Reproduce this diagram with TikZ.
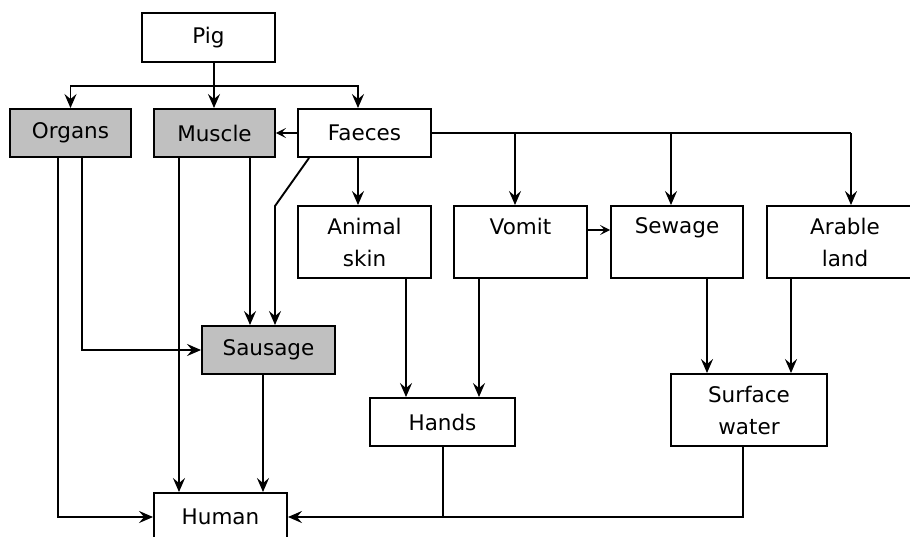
\documentclass[tikz,border=0pt]{standalone}
\usepackage{fontspec}
\setmainfont{DejaVu Sans}
\usetikzlibrary{arrows.meta}
\definecolor{boxgray}{HTML}{C0C0C0}
\tikzset{
  box/.style={draw, line width=1.9pt, minimum height=48pt, align=center, inner sep=0pt,
    font=\fontsize{21.5}{32}\selectfont},
  gbox/.style={box, fill=boxgray},
  ln/.style={line width=1.9pt},
  arr/.style={line width=1.9pt, -{Stealth[length=14pt,width=12pt,inset=5pt]}},
  sarr/.style={line width=1.9pt, -{Stealth[length=10pt,width=10pt,inset=4.5pt]}}
}
\begin{document}
\begin{tikzpicture}[x=1pt,y=-1pt]
\clip (0,0) rectangle (910,536);
\fill[white] (0,0) rectangle (910,536);
% nodes
\node[box, minimum width=133pt, minimum height=49pt] (Pig) at (208.5,37.5) {Pig};
\node[gbox, minimum width=121pt] (Organs) at (70.5,133) {Organs};
\node[gbox, minimum width=121pt] (Muscle) at (214.5,133) {Muscle};
\node[box, minimum width=133pt] (Faeces) at (364.5,133) {Faeces};
\node[box, minimum width=133pt, minimum height=72pt] (Skin) at (364.5,242) {Animal\\skin};
\node[box, minimum width=133pt, minimum height=72pt] (Vomit) at (520.5,242) {Vomit\\\mbox{}};
\node[box, minimum width=132pt, minimum height=72pt] (Sewage) at (677,242) {Sewage\\\mbox{}};
\node[box, minimum width=156pt, minimum height=72pt] (Arable) at (845,242) {Arable\\land};
\node[gbox, minimum width=133pt] (Sausage) at (268.5,350) {Sausage};
\node[box, minimum width=145pt] (Hands) at (442.5,422) {Hands};
\node[box, minimum width=156pt, minimum height=72pt] (Surface) at (749,410) {Surface\\water};
\node[box, minimum width=133pt] (Human) at (220.5,517) {Human};
% coordinates
\coordinate (split) at (214,86);
\coordinate (bv) at (515,133);
\coordinate (bs) at (671,133);
\coordinate (ba) at (851,133);
\coordinate (fk) at (275,206);
\coordinate (m1) at (179,0);
\coordinate (m2) at (250,0);
\coordinate (o1) at (58,0);
\coordinate (o2) at (82,0);
\coordinate (s1) at (263,0);
\coordinate (a1) at (406,0);
\coordinate (a2) at (479,0);
\coordinate (w1) at (707,0);
\coordinate (w2) at (791,0);
\coordinate (h1) at (443,0);
\coordinate (w3) at (743,0);
% connectors
\draw[ln] (Pig.south -| split) -- (split);
\draw[arr] (split) -| (Organs.north);
\draw[arr] (split) -- (Muscle.north -| split);
\draw[arr] (split) -| ([xshift=-6.5pt]Faeces.north);
\draw[sarr] (Faeces.west) -- (Muscle.east);
\draw[ln] (Faeces.east) -- (ba);
\draw[arr] (bv) -- (bv |- Vomit.north);
\draw[arr] (bs) -- (bs |- Sewage.north);
\draw[arr] (ba) -- (ba |- Arable.north);
\draw[arr] ([xshift=-6.5pt]Faeces.south) -- ([xshift=-6.5pt]Skin.north);
\draw[arr] ([xshift=12pt]Faeces.south west) -- (fk) -- (fk |- Sausage.north);
\draw[arr] (m2 |- Muscle.south) -- (m2 |- Sausage.north);
\draw[arr] (m1 |- Muscle.south) -- (m1 |- Human.north);
\draw[arr] (o2 |- Organs.south) |- (Sausage.west);
\draw[arr] (o1 |- Organs.south) |- (Human.west);
\draw[arr] (s1 |- Sausage.south) -- (s1 |- Human.north);
\draw[sarr] ([yshift=12pt]Vomit.east) -- ([yshift=12pt]Sewage.west);
\draw[arr] (a1 |- Skin.south) -- (a1 |- Hands.north);
\draw[arr] (a2 |- Vomit.south) -- (a2 |- Hands.north);
\draw[arr] (w1 |- Sewage.south) -- (w1 |- Surface.north);
\draw[arr] (w2 |- Arable.south) -- (w2 |- Surface.north);
\draw[arr] (w3 |- Surface.south) |- (Human.east);
\draw[ln] (h1 |- Hands.south) -- (h1 |- Human.east);
\end{tikzpicture}
\end{document}
